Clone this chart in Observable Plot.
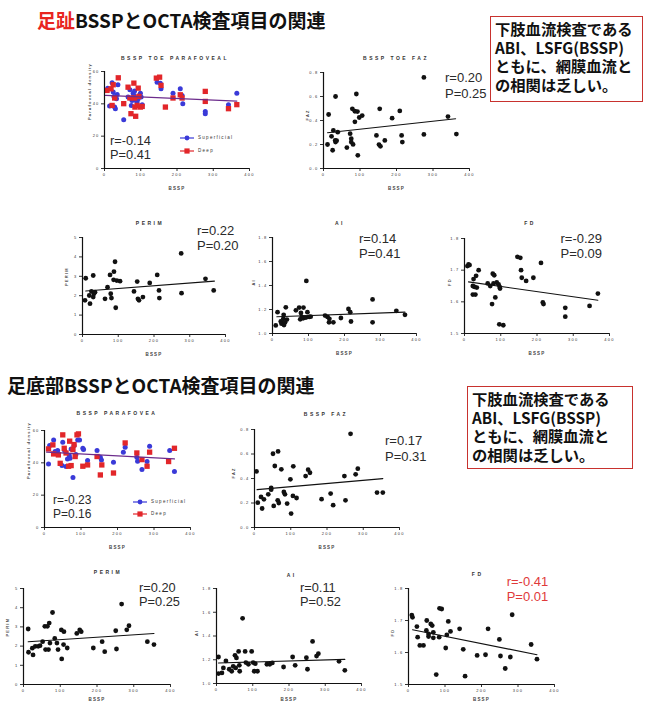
<!DOCTYPE html>
<html><head><meta charset="utf-8">
<script src="https://cdn.jsdelivr.net/npm/d3@7"></script>
<script src="https://cdn.jsdelivr.net/npm/@observablehq/plot@0.6"></script>
<style>
body{margin:0;background:#fff;}
#wrap{position:relative;width:648px;height:704px;overflow:hidden;background:#fff;font-family:"Liberation Sans",Arial,sans-serif;}
.abs{position:absolute;white-space:nowrap;}
.jt{font-family:"Noto Sans CJK JP",sans-serif;font-weight:700;color:#111;}
.ptitle{font-size:5px;font-weight:700;letter-spacing:2.5px;color:#333;transform:translate(-50%,-50%);}
.rp{color:#2a2a2a;}
.box{position:absolute;border:1.5px solid #c8322e;box-sizing:border-box;}
.bl{position:absolute;white-space:nowrap;font-family:"Noto Sans CJK JP",sans-serif;font-weight:700;color:#111;}
.leg{font-size:4.5px;letter-spacing:1.3px;color:#333;}
</style></head>
<body><div id="wrap"></div>
<script>
// ---------- data ----------
const xTicks = [0, 100, 200, 300, 400];
const paraTicks = [0, 20, 40, 60];
const fazTicks = [0, 0.2, 0.4, 0.6, 0.8];
const perimTicks = [0, 1, 2, 3, 4, 5];
const aiTicks = [1.0, 1.2, 1.4, 1.6, 1.8];
const fdTicks = [1.5, 1.6, 1.7, 1.8];

// 足趾 BSSP
const toeParaSup = [[9,49.7],[14,38.6],[21,53],[24,47.3],[26,44.6],[28,38],[30,37],[33,43.2],[35,45.8],[37,51.8],[53,30.2],[65,44.2],[70,48.7],[74,39],[76,42.1],[79,46.6],[81,45.2],[83,47.9],[85,43.6],[87,42.1],[90,41.5],[93,43.2],[96,45.2],[99,46.6],[101,44.2],[104,39.5],[145,53.4],[154,52.8],[156,49.3],[189,46.6],[209,49.3],[214,45.2],[216,40.1],[278,35.3],[278,33.9],[342,39.5],[365,46.6]];
const toeParaDeep = [[7,48.3],[18,49.3],[21,39],[24,51.8],[28,43.6],[38,56.1],[53,40.1],[65,50.3],[70,43.6],[73,33.9],[81,52.8],[83,43.6],[84,38],[86,32.3],[90,39],[93,49.7],[95,44.6],[99,38],[104,38.4],[143,55.9],[152,56.5],[156,51.4],[168,38],[189,43.6],[209,45.6],[214,43.6],[278,47.7],[278,41.5],[342,37],[365,39.5]];
const toeParaFit = [[3,45.2],[365,41.7]];

const toeFaz = [[11,0.20],[14,0.45],[25,0.152],[22,0.268],[27,0.317],[32,0.234],[33,0.22],[33,0.60],[36,0.232],[39,0.303],[64,0.174],[73,0.29],[76,0.248],[76,0.22],[81,0.201],[79,0.497],[86,0.389],[86,0.477],[90,0.621],[93,0.474],[94,0.11],[98,0.425],[106,0.441],[145,0.276],[152,0.199],[154,0.497],[156,0.185],[168,0.234],[188,0.419],[209,0.48],[214,0.276],[216,0.22],[275,0.759],[275,0.284],[341,0.433],[364,0.287]];
const toeFazFit = [[11,0.298],[362,0.414]];

const toePerim = [[7,1.76],[9,2.9],[21,1.59],[19,2.01],[25,2.22],[30,1.93],[30,3.04],[32,2.1],[35,2.18],[63,1.84],[70,2.44],[77,3.07],[79,2.1],[81,1.88],[87,2.82],[88,3.24],[91,3.75],[93,1.38],[96,2.78],[105,2.75],[144,2.22],[153,2.73],[155,1.84],[158,1.76],[169,1.93],[188,2.66],[209,3.07],[214,2.27],[215,1.88],[276,4.18],[277,2.13],[344,2.87],[367,2.27]];
const toePerimFit = [[9,2.24],[369,2.75]];

const toeAI = [[9,1.067],[14,1.178],[23,1.10],[25,1.082],[30,1.122],[31,1.156],[32,1.071],[35,1.093],[37,1.218],[40,1.116],[65,1.193],[74,1.216],[77,1.118],[79,1.171],[81,1.138],[85,1.127],[86,1.216],[88,1.133],[93,1.133],[94,1.438],[97,1.178],[102,1.138],[106,1.14],[146,1.149],[153,1.138],[157,1.093],[158,1.122],[169,1.093],[190,1.129],[211,1.204],[216,1.178],[218,1.10],[278,1.284],[278,1.093],[344,1.189],[368,1.156]];
const toeAIFit = [[12,1.14],[368,1.178]];

const toeFD = [[8,1.713],[11,1.718],[14,1.716],[39,1.70],[32,1.682],[25,1.672],[23,1.65],[28,1.647],[34,1.645],[23,1.623],[30,1.623],[64,1.658],[71,1.65],[76,1.593],[78,1.689],[82,1.684],[80,1.658],[85,1.614],[89,1.661],[94,1.655],[96,1.529],[97,1.647],[98,1.642],[107,1.526],[146,1.742],[154,1.739],[156,1.70],[158,1.676],[170,1.666],[190,1.676],[211,1.723],[216,1.598],[218,1.593],[278,1.581],[278,1.553],[345,1.587],[368,1.626]];
const toeFDFit = [[11,1.663],[368,1.605]];

// 足底部 BSSP
const soleParaSup = [[11,39.3],[14,50.7],[25,54.2],[29,47],[36,47.6],[48,38.3],[50,52.8],[55,47.6],[59,37.7],[63,42.4],[68,44.5],[70,42.8],[73,48.6],[78,31],[81,50.7],[86,45.1],[91,54.2],[96,54.2],[105,49],[107,48.2],[118,41.4],[144,47.6],[153,43.4],[156,41.8],[189,40.3],[216,46.6],[221,49.7],[253,43.4],[255,41],[267,35.8],[281,40.8],[288,50.3],[343,47.6],[356,34.6]];
const soleParaDeep = [[11,48.6],[23,51.1],[25,45.5],[38,44.9],[43,39.7],[50,57.3],[54,49],[59,46.1],[66,37.9],[69,53.4],[73,38.3],[78,48.2],[81,51.3],[84,43.9],[89,57.3],[93,57.9],[105,37.9],[118,38.7],[144,43.9],[153,32.5],[157,38.7],[189,33.7],[221,52.3],[253,46.1],[267,42],[281,37.9],[288,46.6],[340,40.8],[356,49]];
const soleParaFit = [[6,46.6],[356,42.4]];

const soleFaz = [[5.5,0.458],[9,0.203],[18,0.25],[21,0.155],[26,0.23],[38,0.271],[46,0.323],[46,0.309],[53,0.176],[51,0.602],[56,0.502],[64,0.222],[65,0.621],[67,0.20],[74,0.475],[81,0.29],[84,0.271],[90,0.195],[99,0.393],[101,0.114],[106,0.258],[107,0.499],[116,0.241],[141,0.42],[148,0.472],[153,0.447],[185,0.231],[210,0.277],[217,0.182],[248,0.42],[251,0.222],[265,0.765],[279,0.434],[285,0.48],[338,0.285],[354,0.285]];
const soleFazFit = [[7,0.309],[354,0.399]];

const solePerim = [[12.7,2.89],[13.6,1.68],[26,1.54],[24,1.89],[32,1.99],[40,1.99],[45,2.02],[52,2.23],[58,3.03],[60,1.82],[65,3.03],[68,1.82],[70,3.2],[72,2.16],[79,3.75],[85,2.4],[91,2.16],[94,1.82],[103,2.84],[104,1.33],[109,2.08],[110,2.75],[119,1.9],[145,2.66],[153,2.84],[157,2.75],[190,1.9],[214,2.23],[221,1.71],[251,2.8],[253,1.85],[267,4.19],[281,2.85],[287,3.06],[337,2.23],[355,2.08]];
const solePerimFit = [[12.7,2.23],[355,2.66]];

const soleAI = [[5.5,1.223],[5.5,1.084],[15,1.089],[19,1.131],[26,1.19],[35,1.12],[42,1.103],[46,1.145],[51,1.237],[53,1.131],[55,1.215],[61,1.27],[63,1.153],[64,1.103],[72,1.549],[79,1.27],[81,1.176],[88,1.162],[97,1.27],[101,1.176],[104,1.103],[107,1.167],[113,1.103],[139,1.162],[147,1.162],[154,1.173],[185,1.139],[210,1.223],[217,1.153],[248,1.217],[251,1.12],[265,1.354],[276,1.231],[281,1.251],[338,1.187],[354,1.111]];
const soleAIFit = [[5.5,1.173],[354,1.203]];

const soleFD = [[9,1.717],[11,1.71],[23,1.681],[25,1.648],[31,1.622],[41,1.622],[50,1.70],[49,1.669],[55,1.65],[55,1.658],[61,1.689],[65,1.684],[68,1.646],[68,1.663],[76,1.531],[84,1.648],[85,1.738],[91,1.736],[102,1.614],[105,1.655],[109,1.697],[115,1.666],[140,1.674],[150,1.61],[155,1.526],[188,1.591],[211,1.593],[218,1.674],[249,1.641],[252,1.589],[265,1.55],[279,1.586],[284,1.718],[336,1.625],[352,1.579]];
const soleFDFit = [[11,1.671],[352,1.593]];

const rpLabels = {
  toePara:["r=-0.14","P=0.41"], toeFaz:["r=0.20","P=0.25"], toePerim:["r=0.22","P=0.20"],
  toeAI:["r=0.14","P=0.41"], toeFD:["r=-0.29","P=0.09"],
  solePara:["r=-0.23","P=0.16"], soleFaz:["r=0.17","P=0.31"], solePerim:["r=0.20","P=0.25"],
  soleAI:["r=0.11","P=0.52"], soleFD:["r=-0.41","P=0.01"]
};
const seriesNames = ["Superficial", "Deep"];
const heading1 = ["足趾", "BSSPとOCTA検査項目の関連"];
const heading2 = "足底部BSSPとOCTA検査項目の関連";
const noteLines = ["下肢血流検査である", "ABI、LSFG(BSSP)", "ともに、網膜血流と", "の相関は乏しい。"];

// ---------- layout ----------
const BLUE = "#3a3ad8", RED = "#e2262a", LINEP = "#6c2c8c";
const panels = [
  {key:"toePara", sup:toeParaSup, deep:toeParaDeep, fit:toeParaFit, x0:104,x1:249,top:71,bot:168, yd:[0,60], yt:paraTicks, fmt:d=>String(d), title:"BSSP TOE PARAFOVEAL", tx:175, ty:57.5, ylab:"Parafoveal density", ylx:-15, rpx:110, rpy:141, lh:14.5, fs:12.8, leg:{x:187,y:138,dy:13}},
  {key:"toeFaz", pts:toeFaz, fit:toeFazFit, x0:323,x1:469,top:72,bot:168, yd:[0,0.8], yt:fazTicks, fmt:d3.format(".1f"), title:"BSSP TOE FAZ", tx:396, ty:57.5, ylab:"FAZ", ylx:-16, rpx:445, rpy:78, lh:16},
  {key:"toePerim", pts:toePerim, fit:toePerimFit, x0:82,x1:225,top:237,bot:334, yd:[0,5], yt:perimTicks, fmt:d=>String(d), title:"PERIM", tx:150, ty:223, ylab:"PERIM", ylx:-16, rpx:197, rpy:231, lh:15},
  {key:"toeAI", pts:toeAI, fit:toeAIFit, x0:272,x1:416,top:237,bot:333, yd:[1.0,1.8], yt:aiTicks, fmt:d3.format(".1f"), title:"AI", tx:340, ty:223, ylab:"AI", ylx:-19, rpx:359, rpy:239, lh:15},
  {key:"toeFD", pts:toeFD, fit:toeFDFit, x0:464,x1:609,top:238,bot:333, yd:[1.5,1.8], yt:fdTicks, fmt:d3.format(".1f"), title:"FD", tx:530, ty:223, ylab:"FD", ylx:-15, rpx:560.5, rpy:239, lh:15},
  {key:"solePara", sup:soleParaSup, deep:soleParaDeep, fit:soleParaFit, x0:44,x1:190,top:430,bot:527, yd:[0,60], yt:paraTicks, fmt:d=>String(d), title:"BSSP PARAFOVEA", tx:117, ty:413.3, ylab:"Parafoveal density", ylx:-16, rpx:53, rpy:500.7, lh:13.8, fs:12, leg:{x:140,y:502,dy:12}},
  {key:"soleFaz", pts:soleFaz, fit:soleFazFit, x0:254,x1:399,top:429,bot:527, yd:[0,0.8], yt:fazTicks, fmt:d3.format(".1f"), title:"BSSP FAZ", tx:326, ty:414.3, ylab:"FAZ", ylx:-21, rpx:385, rpy:441, lh:15.7},
  {key:"solePerim", pts:solePerim, fit:solePerimFit, x0:23,x1:170,top:588,bot:684, yd:[0,5], yt:perimTicks, fmt:d=>String(d), title:"PERIM", tx:108, ty:571.7, ylab:"PERIM", ylx:-16, rpx:139, rpy:588, lh:14.5, fs:12.8, xly:15},
  {key:"soleAI", pts:soleAI, fit:soleAIFit, x0:216,x1:361,top:588,bot:683, yd:[1.0,1.8], yt:aiTicks, fmt:d3.format(".1f"), title:"AI", tx:291.7, ty:575, ylab:"AI", ylx:-20, rpx:300, rpy:587.7, lh:14.5, fs:12.8, xly:16},
  {key:"soleFD", pts:soleFD, fit:soleFDFit, x0:408,x1:554,top:588,bot:684, yd:[1.5,1.8], yt:fdTicks, fmt:d3.format(".1f"), title:"FD", tx:477.7, ty:574.3, ylab:"FD", ylx:-16, rpx:506.7, rpy:581.7, lh:15, rpColor:"#e03a3a", xly:15}
];

const wrap = document.getElementById("wrap");
function addDiv(cls, html, css, parent){
  const d = document.createElement("div");
  d.className = "abs " + cls; d.innerHTML = html;
  Object.assign(d.style, css); (parent||wrap).appendChild(d); return d;
}

// headings
addDiv("jt", `<span style="color:#e8251f">${heading1[0]}</span>${heading1[1]}`, {left:"37px", top:"7px", fontSize:"19px", lineHeight:"26px"});
addDiv("jt", heading2, {left:"7px", top:"372px", fontSize:"19px", lineHeight:"26px"});
// note boxes: one div per line, line boxes kept apart
function box(l,t,w,h,fs,step){
  const b = document.createElement("div"); b.className = "box";
  Object.assign(b.style,{left:l+"px",top:t+"px",width:w+"px",height:h+"px"});
  wrap.appendChild(b);
  noteLines.forEach((txt,i)=>{
    addDiv("bl", txt, {left:"4px", top:(4 + i*step)+"px", fontSize:fs+"px", lineHeight:(fs+0.5)+"px", height:(fs+0.5)+"px"}, b);
  });
}
box(490,16,153,86,15.3,18.7);
box(467,386,166,83,15.3,18.7);

function makePanel(c){
  const mL=40,mR=30,mT=30,mB=30;
  const W=(c.x1-c.x0)+mL+mR, H=(c.bot-c.top)+mT+mB;
  const marks = [
    Plot.axisX({ticks:xTicks, tickSize:3, tickPadding:2, tickFormat:d=>String(d), fontSize:4, color:"#333", label:null}),
    Plot.axisY({ticks:c.yt, tickSize:3, tickPadding:2, tickFormat:c.fmt, fontSize:4, color:"#333", label:null}),
    Plot.text(["BSSP"], {frameAnchor:"bottom", dy:c.xly||20, lineAnchor:"middle", fontSize:4.5, fontWeight:"bold", fill:"#444"}),
    Plot.text([c.ylab], {frameAnchor:"left", dx:c.ylx, rotate:-90, lineAnchor:"middle", fontSize:4, fontWeight:"bold", fill:"#444"})
  ];
  if (c.sup){
    marks.push(Plot.dot(c.sup, {x:d=>d[0], y:d=>d[1], r:2.5, fill:BLUE}));
    marks.push(Plot.dot(c.deep, {x:d=>d[0], y:d=>d[1], r:3, symbol:"square", fill:RED}));
    marks.push(Plot.line(c.fit, {x:d=>d[0], y:d=>d[1], stroke:LINEP, strokeWidth:1.3}));
  } else {
    marks.push(Plot.dot(c.pts, {x:d=>d[0], y:d=>d[1], r:2.4, fill:"#111"}));
    marks.push(Plot.line(c.fit, {x:d=>d[0], y:d=>d[1], stroke:"#111", strokeWidth:1.1}));
  }
  marks.push(Plot.ruleX([0], {stroke:"#111", strokeWidth:1.2}));
  marks.push(Plot.ruleY([c.yd[0]], {stroke:"#111", strokeWidth:1.2}));
  const svg = Plot.plot({
    width:W, height:H, marginLeft:mL, marginRight:mR, marginTop:mT, marginBottom:mB,
    x:{domain:[0,400]}, y:{domain:c.yd},
    style:{background:"transparent", fontFamily:"Liberation Sans, Arial, sans-serif", fontSize:"4px", letterSpacing:"1.2px", overflow:"visible"},
    marks
  });
  svg.style.position = "absolute";
  svg.style.left = (c.x0-mL)+"px";
  svg.style.top = (c.top-mT)+"px";
  wrap.appendChild(svg);

  addDiv("ptitle", c.title, {left:c.tx+"px", top:c.ty+"px"});
  const rp = rpLabels[c.key];
  const fs = c.fs || 13;
  rp.forEach((t,i)=>{
    addDiv("rp", t, {left:c.rpx+"px", top:(c.rpy + i*c.lh - fs*0.55)+"px", fontSize:fs+"px", lineHeight:(fs*1.1)+"px", height:(fs*1.1)+"px", color:c.rpColor||"#2a2a2a"});
  });
  if (c.leg){
    const L = c.leg;
    seriesNames.forEach((name,i)=>{
      const y = L.y + i*L.dy;
      const sym = i===0 ? `<circle cx="7" cy="4" r="2.4" fill="${BLUE}"/>` : `<rect x="4.4" y="1.4" width="5.2" height="5.2" fill="${RED}"/>`;
      const col = i===0 ? BLUE : RED;
      addDiv("leg", `<svg width="14" height="8" style="vertical-align:middle"><line x1="0" y1="4" x2="14" y2="4" stroke="${col}" stroke-width="1.2"/>${sym}</svg><span style="margin-left:4px;vertical-align:middle">${name}</span>`,
        {left:(L.x-7)+"px", top:(y-4)+"px", lineHeight:"8px", height:"8px"});
    });
  }
}
panels.forEach(makePanel);
</script>
</body></html>
